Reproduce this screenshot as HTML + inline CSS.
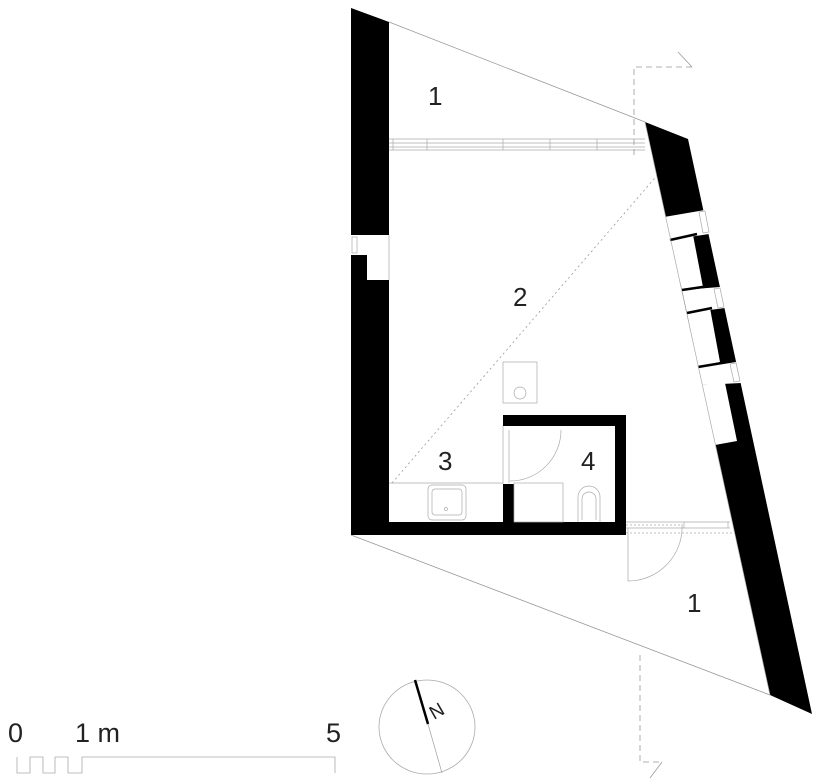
<!DOCTYPE html>
<html><head><meta charset="utf-8"><style>
html,body{margin:0;padding:0;background:#fff;}
svg{display:block;}
text{font-family:"Liberation Sans",sans-serif;fill:#222;}
</style></head><body>
<svg width="818" height="780" viewBox="0 0 818 780" xmlns="http://www.w3.org/2000/svg">
<g stroke="#999" stroke-width="0.8" fill="none">
<line x1="389" y1="22" x2="645" y2="122"/>
<line x1="351" y1="535" x2="770" y2="695"/>
</g>
<polygon points="351,8 389,22 389,235 351,235" fill="#000"/>
<polygon points="351,255 367,255 367,280 389,280 389,535 351,535" fill="#000"/>
<rect x="352" y="237" width="5" height="16" fill="none" stroke="#aaa" stroke-width="0.7"/>
<line x1="389" y1="235" x2="389" y2="280" stroke="#aaa" stroke-width="0.7"/>
<rect x="351" y="522" width="275" height="13" fill="#000"/>
<rect x="503" y="415" width="123" height="11" fill="#000"/>
<rect x="615" y="415" width="11" height="120" fill="#000"/>
<rect x="503" y="484" width="11" height="51" fill="#000"/>
<g stroke="#aaa" stroke-width="0.7" fill="none">
<line x1="503" y1="426" x2="503" y2="484"/>
<line x1="509" y1="430" x2="509" y2="483"/>
<path d="M561,430 A51,51 0 0 1 510,481"/>
<line x1="389" y1="483" x2="503" y2="483"/>
<rect x="514" y="483" width="49" height="39"/>
<rect x="428" y="485" width="38" height="35" rx="4"/>
<rect x="432" y="489" width="30" height="26" rx="3"/>
<circle cx="446" cy="509" r="1.5"/>
<path d="M578,522 V497 A11,11 0 0 1 600,497 V522"/>
<path d="M582,520 V499 A7,7 0 0 1 596,499 V520"/>
<rect x="503" y="362" width="34" height="41"/>
<circle cx="520" cy="393" r="6"/>
</g>
<line x1="392" y1="483" x2="660" y2="172" stroke="#999" stroke-width="0.8" stroke-dasharray="2,3"/>
<g stroke="#aaa" stroke-width="0.7" fill="none">
<line x1="389" y1="139" x2="645" y2="139"/>
<line x1="389" y1="143" x2="645" y2="143"/>
<line x1="389" y1="147" x2="645" y2="147"/>
<line x1="389" y1="150" x2="645" y2="150"/>
<line x1="393" y1="139" x2="393" y2="150"/>
<line x1="427" y1="139" x2="427" y2="150"/>
<line x1="503" y1="139" x2="503" y2="150"/>
<line x1="550" y1="139" x2="550" y2="150"/>
<line x1="597" y1="139" x2="597" y2="150"/>
</g>
<polygon points="645,122 688,139 812,714 770,695" fill="#000"/>
<g fill="#fff">
<polygon points="664,217 705,210 709,234 670,240"/>
<polygon points="670,240 693,235 703,287 682,290"/>
<polygon points="682,290 720,287 725,308 687,313"/>
<polygon points="687,313 710,308 720,362 698,367"/>
<polygon points="698,367 736,362 741,383 702,385"/>
<polygon points="702,385 725,383 737,441 715,445"/>
</g>
<g stroke="#000" stroke-width="2.5">
<line x1="670" y1="240" x2="697" y2="234"/>
<line x1="682" y1="290" x2="716" y2="285"/>
<line x1="687" y1="313" x2="712" y2="308"/>
<line x1="698" y1="367" x2="734" y2="361"/>
</g>
<g stroke="#aaa" stroke-width="0.7" fill="none">
<line x1="645" y1="122" x2="770" y2="695"/>
<polygon points="699,212 705,211 709,232 703,233"/>
<polygon points="714,289 720,288 724,307 718,308"/>
<polygon points="730,364 736,363 740,381 734,382"/>
</g>
<g stroke="#aaa" stroke-width="0.7" fill="none">
<line x1="626" y1="522" x2="730" y2="522"/>
<line x1="626" y1="528" x2="730" y2="528"/>
<line x1="626" y1="525" x2="682" y2="525" stroke-dasharray="2,2"/>
<line x1="626" y1="533" x2="735" y2="533" stroke-dasharray="2,2"/>
<line x1="684" y1="522" x2="684" y2="528"/>
<line x1="728" y1="522" x2="728" y2="528"/>
<line x1="628" y1="528" x2="628" y2="581"/>
<path d="M682,524 A54,54 0 0 1 628,581"/>
</g>
<g stroke="#999" stroke-width="0.8" fill="none" stroke-dasharray="6,4">
<polyline points="634,155 634,67 692,67"/>
<polyline points="640,655 640,762 662,762"/>
</g>
<g stroke="#999" stroke-width="0.8">
<line x1="678" y1="52" x2="692" y2="67"/>
<line x1="662" y1="762" x2="650" y2="778"/>
</g>
<text x="428" y="105" font-size="26">1</text>
<text x="513" y="306" font-size="26">2</text>
<text x="438" y="470" font-size="26">3</text>
<text x="581" y="470" font-size="26">4</text>
<text x="687" y="612" font-size="26">1</text>
<text x="8" y="742" font-size="27">0</text>
<text x="75" y="742" font-size="27">1 m</text>
<text x="326" y="742" font-size="27">5</text>
<path d="M17,757 V773 H30 V757 H43 V773 H55 V757 H68 V773 H82 V757 H335 V773" stroke="#aaa" stroke-width="0.8" fill="none"/>
<ellipse cx="427" cy="727" rx="48" ry="47" stroke="#aaa" stroke-width="0.8" fill="none"/>
<line x1="415" y1="680" x2="428" y2="724" stroke="#000" stroke-width="2.5"/>
<line x1="428" y1="724" x2="442" y2="773" stroke="#aaa" stroke-width="0.8"/>
<text x="0" y="0" font-size="19" transform="translate(434,720) rotate(-30)">N</text>
</svg>
</body></html>
